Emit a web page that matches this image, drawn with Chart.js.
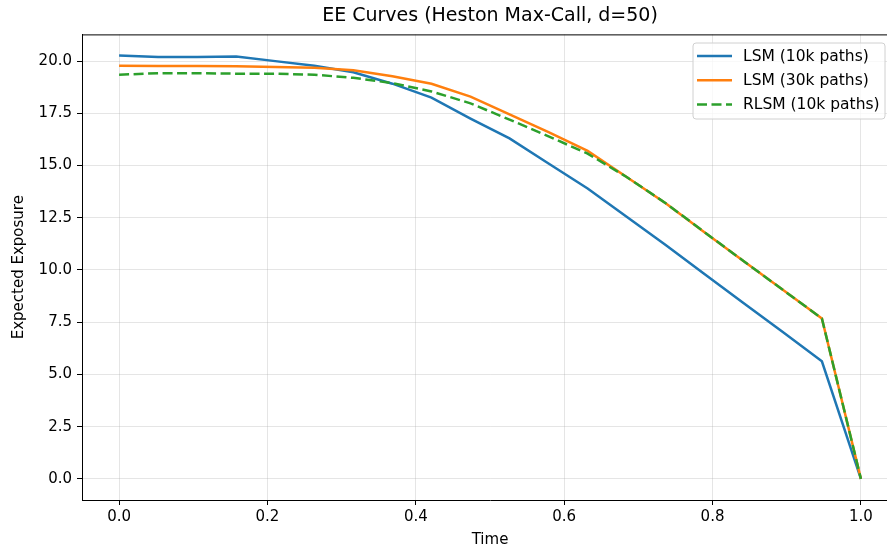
<!DOCTYPE html>
<html><head><meta charset="utf-8">
<script src="https://cdn.jsdelivr.net/npm/chart.js@4.4.0/dist/chart.umd.min.js"></script>
<style>html,body{margin:0;padding:0;background:#fff;overflow:hidden;width:887px;height:550px}canvas{display:block}</style>
</head><body><canvas id="c" width="898" height="550"></canvas>
<script>
const times = [0.0000, 0.0526, 0.1053, 0.1579, 0.2105, 0.2632, 0.3158, 0.3684, 0.4211, 0.4737, 0.5263, 0.5789, 0.6316, 0.6842, 0.7368, 0.7895, 0.8421, 0.8947, 0.9474, 1.0000];
const lsm10k = [20.27, 20.20, 20.20, 20.22, 20.00, 19.78, 19.47, 18.92, 18.25, 17.25, 16.30, 15.10, 13.90, 12.55, 11.20, 9.80, 8.41, 7.03, 5.63, 0.00];
const lsm30k = [19.78, 19.77, 19.77, 19.75, 19.72, 19.68, 19.56, 19.28, 18.92, 18.30, 17.45, 16.60, 15.70, 14.45, 13.20, 11.80, 10.42, 9.05, 7.68, 0.00];
const rlsm10k = [19.35, 19.42, 19.42, 19.40, 19.40, 19.35, 19.20, 18.95, 18.55, 17.98, 17.20, 16.40, 15.57, 14.45, 13.20, 11.80, 10.42, 9.05, 7.68, 0.00];
const seriesLabels = ['LSM (10k paths)', 'LSM (30k paths)', 'RLSM (10k paths)'];
const xTicks = [0.0, 0.2, 0.4, 0.6, 0.8, 1.0];
const yTicks = [0.0, 2.5, 5.0, 7.5, 10.0, 12.5, 15.0, 17.5, 20.0];
const titleText = 'EE Curves (Heston Max-Call, d=50)';
const xLabel = 'Time';
const yLabel = 'Expected Exposure';

const FONT = 'DejaVu Sans';
const pts = arr => times.map((t, i) => ({x: t, y: arr[i]}));

const frameAndLegend = {
  id: 'frameAndLegend',
  afterDraw(chart) {
    const ctx = chart.ctx, a = chart.chartArea;
    ctx.save();
    ctx.strokeStyle = '#000'; ctx.lineWidth = 1;
    ctx.beginPath();
    ctx.moveTo(a.left, a.top + 0.5); ctx.lineTo(a.right, a.top + 0.5);
    ctx.moveTo(a.right - 0.5, a.top); ctx.lineTo(a.right - 0.5, a.bottom);
    ctx.stroke();
    // legend
    const bx = 693, by = 43, bw = 192, bh = 76, r = 3;
    ctx.beginPath();
    ctx.moveTo(bx + r, by); ctx.lineTo(bx + bw - r, by); ctx.arcTo(bx + bw, by, bx + bw, by + r, r);
    ctx.lineTo(bx + bw, by + bh - r); ctx.arcTo(bx + bw, by + bh, bx + bw - r, by + bh, r);
    ctx.lineTo(bx + r, by + bh); ctx.arcTo(bx, by + bh, bx, by + bh - r, r);
    ctx.lineTo(bx, by + r); ctx.arcTo(bx, by, bx + r, by, r);
    ctx.closePath();
    ctx.fillStyle = 'rgba(255,255,255,0.8)'; ctx.fill();
    ctx.strokeStyle = '#d0d0d0'; ctx.lineWidth = 1; ctx.stroke();
    ctx.font = '15.5px "' + FONT + '"';
    ctx.textBaseline = 'middle'; ctx.textAlign = 'left';
    chart.data.datasets.forEach((ds, i) => {
      const y = 56 + i * 24.2;
      ctx.beginPath();
      ctx.strokeStyle = ds.borderColor; ctx.lineWidth = ds.borderWidth;
      ctx.setLineDash(ds.borderDash || []);
      ctx.moveTo(697, y); ctx.lineTo(732, y); ctx.stroke();
      ctx.setLineDash([]);
      ctx.fillStyle = '#000';
      ctx.fillText(ds.label, 743, y + 1);
    });
    ctx.restore();
  }
};

const gridCommon = {color: 'rgba(176,176,176,0.33)', lineWidth: 1, tickColor: '#000', tickLength: 5, tickWidth: 1};

new Chart(document.getElementById('c'), {
  type: 'line',
  data: {
    datasets: [
      {label: seriesLabels[0], data: pts(lsm10k), borderColor: '#1f77b4', borderWidth: 2.5, order: 2},
      {label: seriesLabels[1], data: pts(lsm30k), borderColor: '#ff7f0e', borderWidth: 2.5, order: 1},
      {label: seriesLabels[2], data: pts(rlsm10k), borderColor: '#2ca02c', borderWidth: 2.5, borderDash: [10, 4.5], order: 0}
    ]
  },
  options: {
    responsive: false,
    animation: false,
    devicePixelRatio: 1,
    elements: {point: {radius: 0}, line: {tension: 0, fill: false}},
    layout: {padding: 0},
    plugins: {
      legend: {display: false},
      tooltip: {enabled: false},
      title: {display: true, text: titleText, fullSize: false, color: '#000',
        font: {family: FONT, size: 19, weight: 'normal'}, padding: {top: 5, bottom: 6.6}}
    },
    scales: {
      x: {
        type: 'linear', min: -0.05, max: 1.05,
        afterBuildTicks: s => { s.ticks = xTicks.map(v => ({value: v})); },
        afterFit: s => { s.height = 50; },
        grid: gridCommon,
        border: {display: true, color: '#000', width: 1},
        ticks: {color: '#000', font: {family: FONT, size: 15}, padding: 3, maxRotation: 0,
          callback: v => Number(v).toFixed(1)},
        title: {display: true, text: xLabel, color: '#000', font: {family: FONT, size: 15}, padding: {top: 0, bottom: 1}}
      },
      y: {
        type: 'linear', min: -1.0135, max: 21.28,
        afterBuildTicks: s => { s.ticks = yTicks.map(v => ({value: v})); },
        afterFit: s => { s.width = 82; },
        grid: gridCommon,
        border: {display: true, color: '#000', width: 1},
        ticks: {color: '#000', font: {family: FONT, size: 15}, padding: 5,
          callback: v => Number(v).toFixed(1)},
        title: {display: true, text: yLabel, color: '#000', font: {family: FONT, size: 15}, padding: {top: 10, bottom: 0}}
      }
    }
  },
  plugins: [frameAndLegend]
});
</script>
</body></html>
